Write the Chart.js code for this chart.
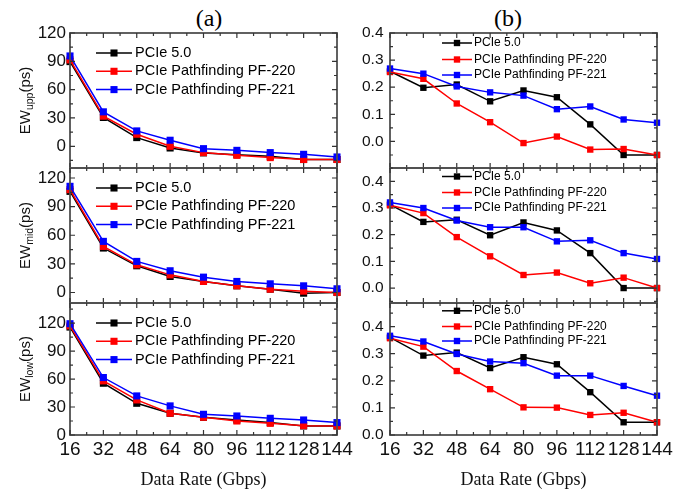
<!DOCTYPE html>
<html>
<head>
<meta charset="utf-8">
<script src="https://cdn.jsdelivr.net/npm/chart.js@4.4.1/dist/chart.umd.min.js"></script>
<style>
  body { margin: 0; background: #fff; }
  #wrap { position: relative; width: 697px; height: 491px; overflow: hidden; background: #fff; }
  canvas { position: absolute; }
  .lbl { position: absolute; font-family: "Liberation Serif", serif; font-size: 24px; color: #000;
         transform: translate(-50%, -50%); white-space: nowrap; }
</style>
</head>
<body>
<div id="wrap">
  <div class="lbl" style="left:209px;top:18px">(a)</div>
  <div class="lbl" style="left:508px;top:18px">(b)</div>
  <canvas id="a1" width="361" height="185" style="left:0;top:0"></canvas>
  <canvas id="a2" width="361" height="170" style="left:0;top:150px"></canvas>
  <canvas id="a3" width="361" height="211" style="left:0;top:280px"></canvas>
  <canvas id="b1" width="352" height="185" style="left:345px;top:0"></canvas>
  <canvas id="b2" width="352" height="170" style="left:345px;top:150px"></canvas>
  <canvas id="b3" width="352" height="211" style="left:345px;top:280px"></canvas>
</div>
<script>
// data
const rates = [16, 32, 48, 64, 80, 96, 112, 128, 144];
const seriesNames = ['PCIe 5.0', 'PCIe Pathfinding PF-220', 'PCIe Pathfinding PF-221'];
const colors = ['#000000', '#ff0000', '#0000ff'];

const ewTicks = [0, 30, 60, 90, 120];
const ehTicks = [0, 0.1, 0.2, 0.3, 0.4];

// (a) eye width, ps
const ewUpp5   = [89.7, 30.5, 9.2, -1.8, -7, -8.9, -10.6, -14, -14];
const ewUpp220 = [91.5, 31.9, 12.8, 0, -6.7, -9.6, -12, -14, -14];
const ewUpp221 = [95.7, 36.5, 16.3, 6.4, -2.5, -4.3, -6.7, -8.5, -11.3];

const ewMid5   = [106, 46.6, 28, 16.8, 11.6, 7, 3.5, -0.7, 0];
const ewMid220 = [107.8, 48.3, 29, 18.5, 11.6, 7, 3.5, 1.4, 0];
const ewMid221 = [111.3, 53.6, 32.6, 22.8, 16.1, 11.6, 9.1, 7, 3.9];

const ewLow5   = [115.7, 55.5, 34, 23.3, 19, 16.1, 13.3, 9.7, 9.7];
const ewLow220 = [117, 58, 37.6, 23.3, 19, 15, 12.5, 10, 9.7];
const ewLow221 = [119.3, 61.6, 41.9, 31.2, 22.2, 20.4, 17.9, 16.1, 13.3];

// (b)
const ehUpp5   = [0.259, 0.198, 0.21, 0.148, 0.188, 0.163, 0.063, -0.05, -0.05];
const ehUpp220 = [0.256, 0.231, 0.14, 0.071, -0.006, 0.018, -0.03, -0.028, -0.05];
const ehUpp221 = [0.269, 0.25, 0.203, 0.181, 0.169, 0.119, 0.129, 0.081, 0.069];

const ehMid5   = [0.313, 0.248, 0.256, 0.198, 0.246, 0.216, 0.131, 0, 0];
const ehMid220 = [0.31, 0.281, 0.191, 0.119, 0.049, 0.058, 0.018, 0.039, 0];
const ehMid221 = [0.321, 0.3, 0.253, 0.228, 0.228, 0.175, 0.179, 0.131, 0.109];

const ehLow5   = [0.36, 0.293, 0.304, 0.247, 0.287, 0.261, 0.158, 0.047, 0.047];
const ehLow220 = [0.357, 0.326, 0.236, 0.169, 0.102, 0.101, 0.074, 0.082, 0.047];
const ehLow221 = [0.366, 0.345, 0.299, 0.271, 0.265, 0.219, 0.219, 0.181, 0.145];

// major + minor tick positions inside [min,max]
function tickMarks(min, max, major) {
  const step = major[1] - major[0];
  const out = [];
  const eps = step * 1e-6;
  for (let k = -40; k <= 80; k++) {
    const v = major[0] + k * step / 2;
    if (v < min - eps || v > max + eps) continue;
    out.push([v, k % 2 === 0]);
  }
  return out;
}

function drawYTitle(ctx, t, cx, cy) {
  const big = '15px "Liberation Sans"', small = '10.5px "Liberation Sans"';
  ctx.font = big;
  const w1 = ctx.measureText(t[0]).width, w3 = ctx.measureText(t[2]).width;
  ctx.font = small;
  const w2 = ctx.measureText(t[1]).width;
  ctx.save();
  ctx.translate(cx, cy);
  ctx.rotate(-Math.PI / 2);
  ctx.fillStyle = '#111';
  ctx.textAlign = 'left';
  ctx.textBaseline = 'alphabetic';
  let x = -(w1 + w2 + w3) / 2;
  ctx.font = big; ctx.fillText(t[0], x, 5.5); x += w1;
  ctx.font = small; ctx.fillText(t[1], x, 8.5); x += w2;
  ctx.font = big; ctx.fillText(t[2], x, 5.5);
  ctx.restore();
}

// panel setup kept outside chart options
const panelCfg = {};

const framePlugin = {
  id: 'frameTicks',
  afterDraw(chart) {
    const cfg = panelCfg[chart.canvas.id];
    const ctx = chart.ctx, a = chart.chartArea;
    const x = chart.scales.x, y = chart.scales.y;
    ctx.save();
    ctx.strokeStyle = '#505050';
    ctx.lineWidth = 1.8;
    ctx.strokeRect(a.left, a.top, a.right - a.left, a.bottom - a.top);
    ctx.strokeStyle = '#333';
    ctx.lineWidth = 1.2;
    ctx.beginPath();
    tickMarks(16, 144, rates).forEach(([v, major]) => {
      const px = x.getPixelForValue(v), l = major ? 5 : 3;
      ctx.moveTo(px, a.bottom); ctx.lineTo(px, a.bottom - l);
      ctx.moveTo(px, a.top); ctx.lineTo(px, a.top + l);
    });
    tickMarks(cfg.yMin, cfg.yMax, cfg.yTicks).forEach(([v, major]) => {
      const py = y.getPixelForValue(v), l = major ? 5 : 3;
      ctx.moveTo(a.left, py); ctx.lineTo(a.left + l, py);
      ctx.moveTo(a.right, py); ctx.lineTo(a.right - l, py);
    });
    ctx.stroke();

    // legend inside the plot area
    const lg = cfg.legend;
    ctx.font = lg.size + 'px "Liberation Sans"';
    ctx.textBaseline = 'middle';
    ctx.textAlign = 'left';
    chart.data.datasets.forEach((ds, i) => {
      const ry = a.top + lg.rows[i];
      ctx.strokeStyle = ds.borderColor;
      ctx.lineWidth = ds.borderWidth;
      ctx.beginPath();
      ctx.moveTo(a.left + lg.x1, ry); ctx.lineTo(a.left + lg.x2, ry);
      ctx.stroke();
      const s = ds.pointRadius * Math.SQRT1_2;
      const mx = a.left + (lg.x1 + lg.x2) / 2;
      ctx.fillStyle = ds.borderColor;
      ctx.fillRect(mx - s, ry - s, 2 * s, 2 * s);
      ctx.fillStyle = '#000';
      ctx.fillText(ds.label, a.left + lg.tx, ry);
    });
    if (cfg.title) drawYTitle(ctx, cfg.title, 24 - chart.canvas.offsetLeft, (a.top + a.bottom) / 2);
    ctx.restore();
  }
};

function panel(id, series, yMin, yMax, yTicks, cfg) {
  const left = cfg.col === 'a';
  const ptR = left ? 5 : 4.5;
  panelCfg[id] = Object.assign({yMin: yMin, yMax: yMax, yTicks: yTicks}, cfg);
  new Chart(document.getElementById(id), {
    type: 'line',
    data: {
      datasets: series.map((vals, i) => ({
        label: seriesNames[i],
        data: rates.map((r, j) => ({x: r, y: vals[j]})),
        borderColor: colors[i],
        backgroundColor: colors[i],
        borderWidth: 1.5,
        pointStyle: 'rect',
        pointRadius: ptR,
        pointBorderWidth: 0,
        pointBackgroundColor: colors[i],
        tension: 0,
        clip: false,
        order: 2 - i
      }))
    },
    options: {
      responsive: false,
      animation: false,
      layout: {padding: {top: cfg.pt, bottom: cfg.pb, left: 0, right: left ? 24 : 40}},
      plugins: {
        legend: {display: false},
        tooltip: {enabled: false}
      },
      scales: {
        x: {
          type: 'linear', min: 16, max: 144,
          display: !!cfg.showX,
          afterBuildTicks: s => { s.ticks = rates.map(v => ({value: v})); },
          afterFit: s => { if (cfg.showX) s.height = 56; },
          grid: {display: false, drawTicks: false},
          border: {display: false},
          ticks: {font: {family: 'Liberation Sans', size: 19}, color: '#111', padding: 3,
                  maxRotation: 0, autoSkip: false},
          title: {display: true, text: 'Data Rate (Gbps)', color: '#111',
                  font: {family: 'Liberation Serif', size: 18}, padding: {top: 0, bottom: 0}}
        },
        y: {
          type: 'linear', min: yMin, max: yMax,
          afterBuildTicks: s => { s.ticks = yTicks.map(v => ({value: v})); },
          afterFit: s => { s.width = left ? 70 : 45; },
          grid: {display: false, drawTicks: false},
          border: {display: false},
          ticks: {font: {family: 'Liberation Sans', size: left ? 17 : 15.5}, color: '#111',
                  padding: left ? 4 : 6.5, autoSkip: false,
                  callback: v => left ? String(v) : v.toFixed(1)}
        }
      }
    },
    plugins: [framePlugin]
  });
}

const legA = {x1: 26, x2: 62, tx: 65, size: 14.5, rows: [20, 38.3, 56.6]};
const legB = rows => ({x1: 52, x2: 82, tx: 84, size: 12, rows: rows});

panel('a1', [ewUpp5, ewUpp220, ewUpp221], -23, 120, ewTicks,
      {col: 'a', pt: 33, pb: 17, legend: legA, title: ['EW', 'upp', '(ps)']});
panel('a2', [ewMid5, ewMid220, ewMid221], -11, 130.5, ewTicks,
      {col: 'a', pt: 18, pb: 17, legend: legA, title: ['EW', 'mid', '(ps)']});
panel('a3', [ewLow5, ewLow220, ewLow221], 0, 141.5, ewTicks,
      {col: 'a', pt: 23, pb: 0, showX: true, legend: legA, title: ['EW', 'low', '(ps)']});

panel('b1', [ehUpp5, ehUpp220, ehUpp221], -0.098, 0.4, ehTicks,
      {col: 'b', pt: 33, pb: 17, legend: legB([10, 26.5, 42])});
panel('b2', [ehMid5, ehMid220, ehMid221], -0.056, 0.45, ehTicks,
      {col: 'b', pt: 18, pb: 17, legend: legB([8.5, 24.5, 40])});
panel('b3', [ehLow5, ehLow220, ehLow221], 0, 0.487, ehTicks,
      {col: 'b', pt: 23, pb: 0, showX: true, legend: legB([7.8, 23.5, 38])});
</script>
</body>
</html>
